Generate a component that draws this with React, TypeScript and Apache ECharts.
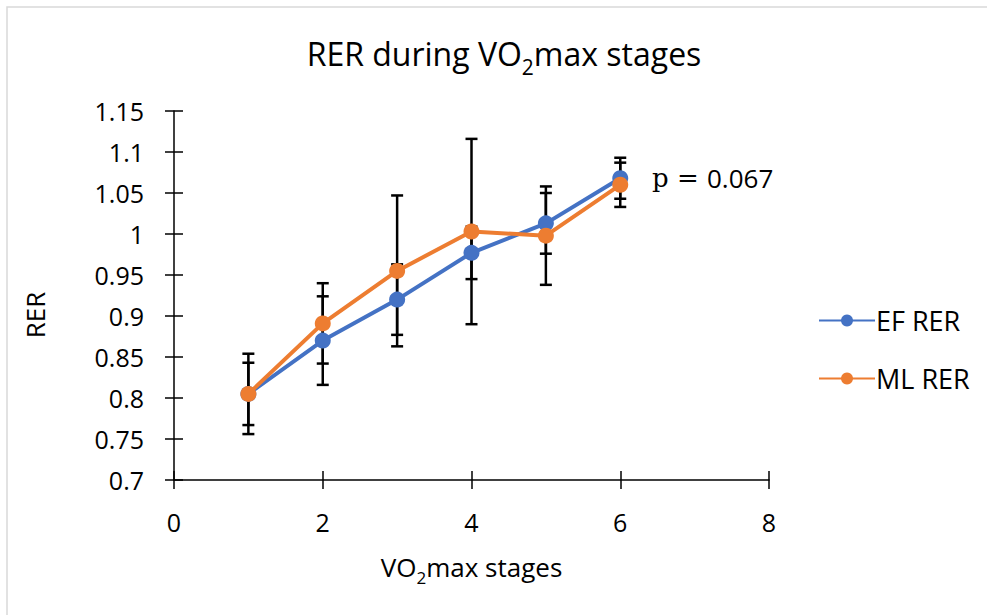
import React, { useEffect, useRef } from "react";
import * as echarts from "echarts";

const stages = [1, 2, 3, 4, 5, 6];
const efRer = [0.805, 0.87, 0.92, 0.977, 1.013, 1.068];
const mlRer = [0.805, 0.891, 0.955, 1.003, 0.998, 1.06];
const efSd = [0.049, 0.054, 0.043, 0.032, 0.037, 0.025];
const mlSd = [0.038, 0.049, 0.092, 0.113, 0.06, 0.027];
const xTicks = [0, 2, 4, 6, 8];
const yTicks = [0.7, 0.75, 0.8, 0.85, 0.9, 0.95, 1, 1.05, 1.1, 1.15];

const FONT = "Open Sans";

function errData(vals: number[], sd: number[]) {
  return stages.map((s, i) => [s, vals[i] - sd[i], vals[i] + sd[i]]);
}

function renderErr(params: any, api: any) {
  const x = api.value(0);
  const lo = api.coord([x, api.value(1)]);
  const hi = api.coord([x, api.value(2)]);
  const w = 6;
  const style = { stroke: "#000", lineWidth: 2.5 };
  return {
    type: "group",
    children: [
      { type: "line", shape: { x1: lo[0], y1: lo[1], x2: hi[0], y2: hi[1] }, style },
      { type: "line", shape: { x1: lo[0] - w, y1: lo[1], x2: lo[0] + w, y2: lo[1] }, style },
      { type: "line", shape: { x1: hi[0] - w, y1: hi[1], x2: hi[0] + w, y2: hi[1] }, style },
    ],
  };
}

export default function App() {
  const ref = useRef<HTMLDivElement>(null);
  useEffect(() => {
    const chart = echarts.init(ref.current!, null, { renderer: "svg" });
    const axisLine = { lineStyle: { color: "#000", width: 1.5 } };
    const tick = { show: true, length: 9, lineStyle: { color: "#000", width: 1.5 } };
    chart.setOption({
      animation: false,
      backgroundColor: "#fff",
      grid: { left: 174, right: 218, top: 111, bottom: 135 },
      xAxis: [
        {
          type: "value",
          min: xTicks[0],
          max: xTicks[xTicks.length - 1],
          interval: 2,
          axisLine,
          axisTick: tick,
          splitLine: { show: false },
          axisLabel: { color: "#000", fontSize: 25, fontFamily: FONT, margin: 29 },
          name: "{a|VO}{s|2}{a|max stages}",
          nameLocation: "middle",
          nameGap: 74,
          nameTextStyle: {
            fontSize: 26,
            rich: {
              a: { fontSize: 26, fontFamily: FONT, color: "#000", verticalAlign: "top", lineHeight: 30 },
              s: { fontSize: 17, fontFamily: FONT, color: "#000", verticalAlign: "top", lineHeight: 20, padding: [15, 0, 0, 0] },
            },
          },
        },
        {
          type: "value",
          position: "bottom",
          min: xTicks[0],
          max: xTicks[xTicks.length - 1],
          interval: 2,
          axisLine: { show: false },
          axisTick: { ...tick, inside: true },
          axisLabel: { show: false },
          splitLine: { show: false },
        },
      ],
      yAxis: [
        {
          type: "value",
          min: yTicks[0],
          max: yTicks[yTicks.length - 1],
          interval: 0.05,
          axisLine: { show: true, ...axisLine },
          axisTick: tick,
          splitLine: { show: false },
          axisLabel: { color: "#000", fontSize: 25, fontFamily: FONT, margin: 30 },
        },
        {
          type: "value",
          position: "left",
          offset: 0,
          min: yTicks[0],
          max: yTicks[yTicks.length - 1],
          interval: 0.05,
          axisLine: { show: false },
          axisTick: { ...tick, inside: true },
          axisLabel: { show: false },
          splitLine: { show: false },
        },
      ],
      legend: {
        orient: "vertical",
        left: 813,
        top: 302,
        itemWidth: 56,
        itemHeight: 15,
        itemGap: 31,
        textStyle: { fontSize: 27, fontFamily: FONT, color: "#000", padding: [0, 0, 0, -4] },
        data: ["EF RER", "ML RER"],
      },
      series: [
        {
          type: "custom",
          name: "EF err",
          renderItem: renderErr,
          data: errData(efRer, efSd),
          encode: { x: 0, y: [1, 2] },
          z: 1,
          silent: true,
        },
        {
          type: "custom",
          name: "ML err",
          renderItem: renderErr,
          data: errData(mlRer, mlSd),
          encode: { x: 0, y: [1, 2] },
          z: 1,
          silent: true,
        },
        {
          type: "line",
          name: "EF RER",
          data: stages.map((s, i) => [s, efRer[i]]),
          symbol: "circle",
          symbolSize: 16,
          color: "#4472C4",
          lineStyle: { width: 4, color: "#4472C4" },
          itemStyle: { color: "#4472C4" },
          z: 3,
        },
        {
          type: "line",
          name: "ML RER",
          data: stages.map((s, i) => [s, mlRer[i]]),
          symbol: "circle",
          symbolSize: 16,
          color: "#ED7D31",
          lineStyle: { width: 4, color: "#ED7D31" },
          itemStyle: { color: "#ED7D31" },
          z: 4,
        },
      ],
      graphic: [
        {
          type: "rect",
          shape: { x: 7, y: 7, width: 1000, height: 700 },
          style: { fill: "none", stroke: "#d9d9d9", lineWidth: 1.5 },
          silent: true,
        },
        {
          type: "text",
          x: 504,
          y: 56,
          style: {
            text: "{a|RER during VO}{s|2}{a|max stages}",
            align: "center",
            verticalAlign: "middle",
            rich: {
              a: { fontSize: 32, fontFamily: FONT, fill: "#000", verticalAlign: "top", lineHeight: 38 },
              s: { fontSize: 21, fontFamily: FONT, fill: "#000", verticalAlign: "top", lineHeight: 24, padding: [19, 0, 0, 0] },
            },
          },
        },
        {
          type: "text",
          x: 35,
          y: 315,
          rotation: Math.PI / 2,
          style: {
            text: "RER",
            align: "center",
            verticalAlign: "middle",
            fontSize: 26,
            fontFamily: FONT,
            fill: "#000",
          },
        },
        {
          type: "text",
          x: 652,
          y: 178,
          style: {
            text: "{p|p = }{n|0.067}",
            verticalAlign: "middle",
            rich: {
              p: { fontSize: 26, fontFamily: "DejaVu Serif", fill: "#000" },
              n: { fontSize: 26, fontFamily: FONT, fill: "#000" },
            },
          },
        },
      ],
    });
    return () => chart.dispose();
  }, []);
  return (
    <div
      ref={ref}
      style={{ position: "fixed", left: 0, top: 0, width: 987, height: 615, background: "#fff" }}
    />
  );
}
